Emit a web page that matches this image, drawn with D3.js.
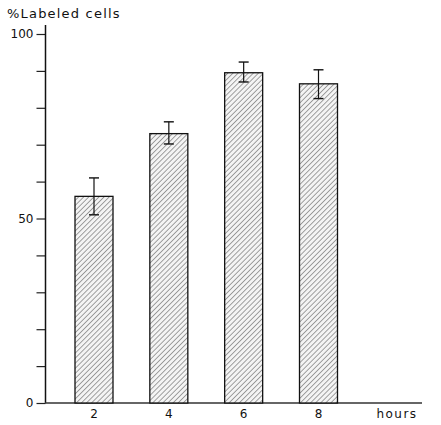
<!DOCTYPE html>
<html>
<head>
<meta charset="utf-8">
<script src="https://cdn.jsdelivr.net/npm/d3@7"></script>
<style>
  html, body { margin: 0; padding: 0; background: #fff; }
  svg text { font-family: "DejaVu Sans", sans-serif; fill: #111; }
</style>
</head>
<body>
<svg id="chart" width="441" height="425"></svg>
<script>
// Labelling time course: percentage of labelled cells after each interval
const hours = [2, 4, 6, 8];
const labeled = [56, 73, 89.5, 86.5];
const errLow = [51, 70.2, 87, 82.5];
const errHigh = [61, 76.2, 92.4, 90.3];
const yTickValues = [0, 10, 20, 30, 40, 50, 60, 70, 80, 90, 100];
const yTickLabels = ["0", "50", "100"];

const svg = d3.select("#chart");

const y = d3.scaleLinear().domain([0, 100]).range([403, 34]);
const x = d3.scaleLinear().domain([2, 8]).range([94, 318.5]);
const barW = 38;

// diagonal hatching used as bar fill
const defs = svg.append("defs");
const pat = defs.append("pattern")
  .attr("id", "hatch")
  .attr("patternUnits", "userSpaceOnUse")
  .attr("width", 3.6).attr("height", 3.6)
  .attr("patternTransform", "rotate(45)");
pat.append("rect").attr("width", 3.6).attr("height", 3.6).attr("fill", "#f4f4f4");
pat.append("line")
  .attr("x1", 0).attr("y1", 0).attr("x2", 0).attr("y2", 3.6)
  .attr("stroke", "#5a5a5a").attr("stroke-width", 1.1);

// y axis with ticks every 10, labels at 0 / 50 / 100
const yAxis = d3.axisLeft(y)
  .tickValues(yTickValues)
  .tickSize(9)
  .tickFormat(d => yTickLabels.includes(String(d)) ? String(d) : "");
const gy = svg.append("g").attr("transform", "translate(45.5,0)").call(yAxis);
gy.select(".domain").remove();
gy.selectAll(".tick line").attr("stroke", "#222").attr("stroke-width", 1.2);
gy.selectAll(".tick text")
  .attr("x", -12)
  .style("font-size", "12px")
  .style("font-family", "DejaVu Sans, sans-serif");
svg.append("line")
  .attr("x1", 45.5).attr("x2", 45.5)
  .attr("y1", 25).attr("y2", y(0))
  .attr("stroke", "#111").attr("stroke-width", 1.5);

// baseline
svg.append("line")
  .attr("x1", 45).attr("x2", 422)
  .attr("y1", y(0)).attr("y2", y(0))
  .attr("stroke", "#333").attr("stroke-width", 1.3);

// bars
svg.selectAll("rect.bar")
  .data(hours)
  .join("rect")
  .attr("class", "bar")
  .attr("x", d => x(d) - barW / 2)
  .attr("width", barW)
  .attr("y", (d, i) => y(labeled[i]))
  .attr("height", (d, i) => y(0) - y(labeled[i]))
  .attr("fill", "url(#hatch)")
  .attr("stroke", "#111")
  .attr("stroke-width", 1.3);

// error bars
const eb = svg.selectAll("g.err").data(hours).join("g").attr("class", "err");
eb.append("line")
  .attr("x1", d => x(d)).attr("x2", d => x(d))
  .attr("y1", (d, i) => y(errHigh[i])).attr("y2", (d, i) => y(errLow[i]))
  .attr("stroke", "#111").attr("stroke-width", 1.2);
eb.append("line")
  .attr("x1", d => x(d) - 5).attr("x2", d => x(d) + 5)
  .attr("y1", (d, i) => y(errHigh[i])).attr("y2", (d, i) => y(errHigh[i]))
  .attr("stroke", "#111").attr("stroke-width", 1.4);
eb.append("line")
  .attr("x1", d => x(d) - 5).attr("x2", d => x(d) + 5)
  .attr("y1", (d, i) => y(errLow[i])).attr("y2", (d, i) => y(errLow[i]))
  .attr("stroke", "#111").attr("stroke-width", 1.4);

// x labels
svg.selectAll("text.xl")
  .data(hours)
  .join("text")
  .attr("class", "xl")
  .attr("x", d => x(d))
  .attr("y", 418)
  .attr("text-anchor", "middle")
  .style("font-size", "12px")
  .text(d => d);

svg.append("text")
  .attr("x", 397).attr("y", 418)
  .attr("text-anchor", "middle")
  .style("font-size", "12px")
  .style("letter-spacing", "1.5px")
  .text("hours");

// axis title
svg.append("text")
  .attr("x", 7).attr("y", 18)
  .style("font-size", "13px")
  .style("letter-spacing", "1.2px")
  .text("%Labeled cells");
</script>
</body>
</html>
